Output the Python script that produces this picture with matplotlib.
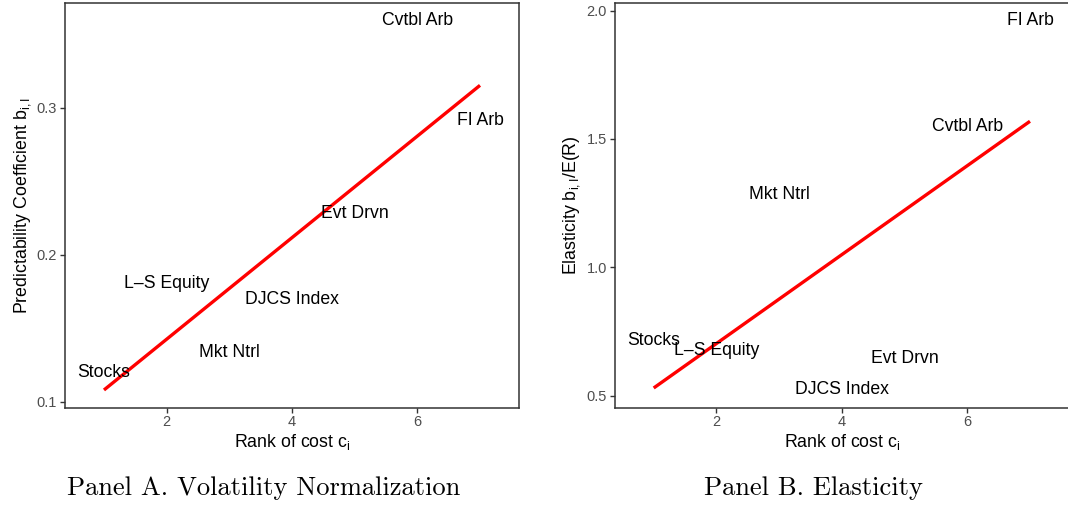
import numpy as np
import matplotlib
matplotlib.use("Agg")
import matplotlib.pyplot as plt

plt.rcParams["font.family"] = ["Liberation Sans", "DejaVu Sans"]
plt.rcParams["mathtext.fontset"] = "custom"
plt.rcParams["mathtext.rm"] = "Liberation Sans"
plt.rcParams["mathtext.it"] = "Liberation Sans"

# ── data ────────────────────────────────────────
RANK = np.array([1, 2, 3, 4, 5, 6, 7])
NOMES = ["Stocks", "L\u2013S Equity", "Mkt Ntrl", "DJCS Index",
         "Evt Drvn", "Cvtbl Arb", "FI Arb"]

# Panel A: predictability coefficient (volatility normalized)
COEF_A = np.array([0.1197, 0.1805, 0.1333, 0.1692, 0.2277, 0.3590, 0.2916])
# Panel B: elasticity
ELAST_B = np.array([0.714, 0.674, 1.282, 0.522, 0.646, 1.548, 1.960])

YTICKS_A = [0.1, 0.2, 0.3]
YTICKS_B = [0.5, 1.0, 1.5, 2.0]
XTICKS = [2, 4, 6]

CINZA = "#333333"


def painel(ax, y, ylab, ylim, yticks):
    for xi, yi, nome in zip(RANK, y, NOMES):
        ax.text(xi, yi, nome, ha="center", va="center", fontsize=12.7, color="black")
    # reta de regressão (lm)
    b, a = np.polyfit(RANK, y, 1)
    xs = np.array([RANK.min(), RANK.max()])
    ax.plot(xs, a + b * xs, color="red", lw=2.4, solid_capstyle="butt")
    ax.set_xlim(0.378, 7.627)
    ax.set_ylim(*ylim)
    ax.set_xticks(XTICKS)
    ax.set_yticks(yticks)
    ax.set_yticklabels([f"{t:.1f}" for t in yticks])
    ax.tick_params(length=3.6, width=1, color=CINZA, labelcolor="#4D4D4D",
                   labelsize=10.5, pad=2)
    for s in ax.spines.values():
        s.set_color(CINZA)
        s.set_linewidth(1.1)
    ax.set_xlabel(r"Rank of cost c$_{\mathrm{i}}$", fontsize=12.8, labelpad=2)
    ax.set_ylabel(ylab, fontsize=12.8, labelpad=3)


fig = plt.figure(figsize=(10.68, 5.08), dpi=100)
axA = fig.add_axes([65 / 1068, 1 - 407.7 / 508, 454.3 / 1068, 405 / 508])
axB = fig.add_axes([614.7 / 1068, 1 - 407.7 / 508, 454.6 / 1068, 405 / 508])

painel(axA, COEF_A, r"Predictability Coefficient b$_{\mathrm{i,I}}$",
       (0.0959, 0.3714), YTICKS_A)
painel(axB, ELAST_B, r"Elasticity b$_{\mathrm{i,I}}$/E(R)",
       (0.453, 2.031), YTICKS_B)

fig.text(264 / 1068, 1 - 488.5 / 508, "Panel A. Volatility Normalization",
         family="cmr10", fontsize=19.1, ha="center", va="center")
fig.text(814 / 1068, 1 - 488.5 / 508, "Panel B. Elasticity",
         family="cmr10", fontsize=19.1, ha="center", va="center")

fig.savefig("out.png", dpi=100)
